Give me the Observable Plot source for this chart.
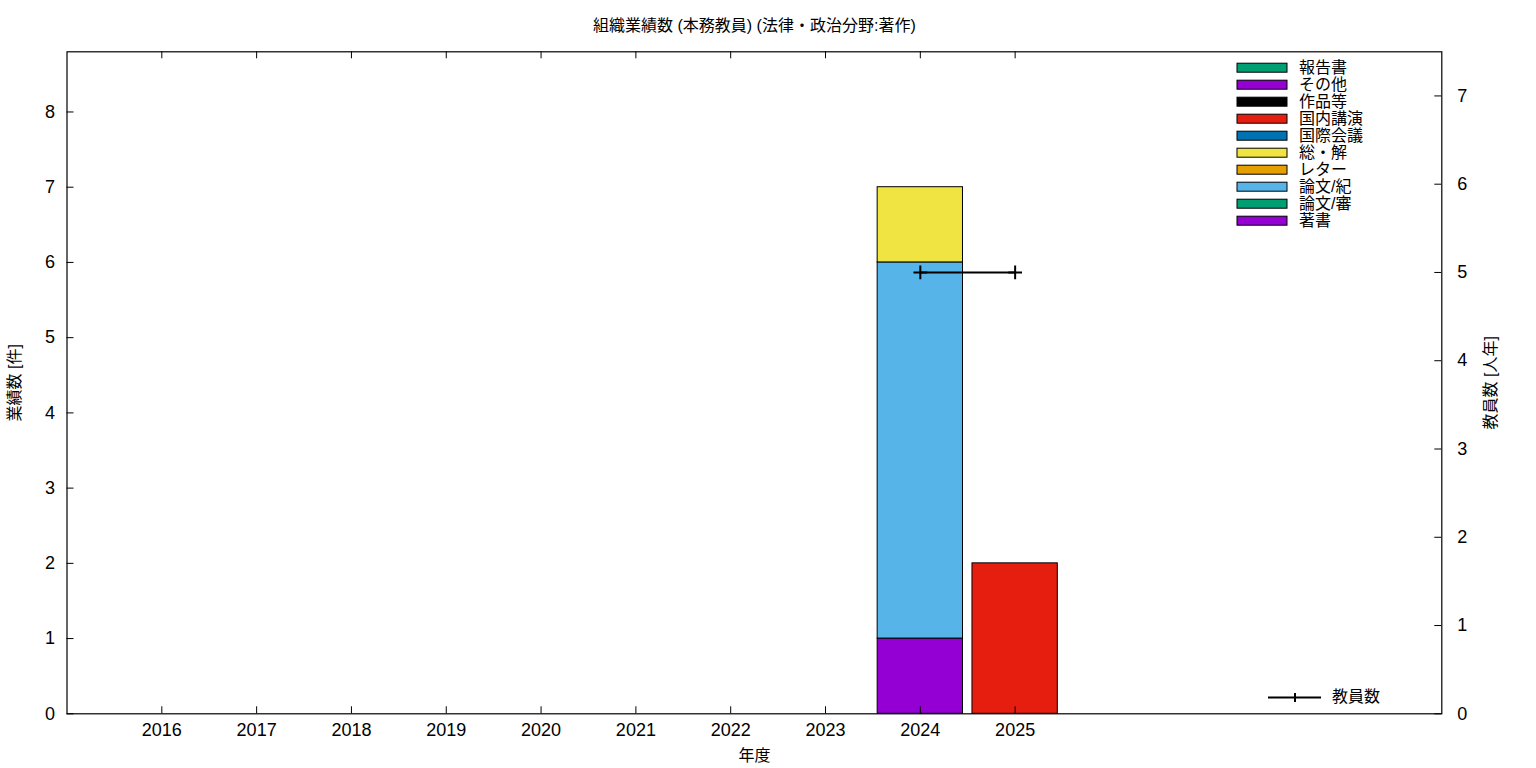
<!DOCTYPE html>
<html>
<head>
<meta charset="utf-8">
<script src="https://cdn.jsdelivr.net/npm/d3@7"></script>
<script src="https://cdn.jsdelivr.net/npm/@observablehq/plot@0.6"></script>
<style>
  html, body { margin: 0; padding: 0; background: #fff; }
  #chart { position: relative; width: 1536px; height: 768px; }
  svg { font-family: "Liberation Sans", "Noto Sans CJK JP", sans-serif; }
</style>
</head>
<body>
<div id="chart"></div>
<script>
// ---- data ----
const years = [2016, 2017, 2018, 2019, 2020, 2021, 2022, 2023, 2024, 2025];
// stacking order, bottom to top
const categories = ["著書", "論文/審", "論文/紀", "レター", "総・解", "国際会議", "国内講演", "作品等", "その他", "報告書"];
const categoryColors = ["#9400d3", "#009e73", "#56b4e9", "#e69f00", "#f0e442", "#0072b2", "#e51e10", "#000000", "#9400d3", "#009e73"];
// counts per category, columns follow years
const counts = {
  "著書":     [0, 0, 0, 0, 0, 0, 0, 0, 1, 0],
  "論文/審":  [0, 0, 0, 0, 0, 0, 0, 0, 0, 0],
  "論文/紀":  [0, 0, 0, 0, 0, 0, 0, 0, 5, 0],
  "レター":   [0, 0, 0, 0, 0, 0, 0, 0, 0, 0],
  "総・解":   [0, 0, 0, 0, 0, 0, 0, 0, 1, 0],
  "国際会議": [0, 0, 0, 0, 0, 0, 0, 0, 0, 0],
  "国内講演": [0, 0, 0, 0, 0, 0, 0, 0, 0, 2],
  "作品等":   [0, 0, 0, 0, 0, 0, 0, 0, 0, 0],
  "その他":   [0, 0, 0, 0, 0, 0, 0, 0, 0, 0],
  "報告書":   [0, 0, 0, 0, 0, 0, 0, 0, 0, 0]
};
const staffYears = [2024, 2025];
const staffCounts = [5, 5];
const leftTicks = [0, 1, 2, 3, 4, 5, 6, 7, 8];
const rightTicks = [0, 1, 2, 3, 4, 5, 6, 7];
const titleText = "組織業績数 (本務教員) (法律・政治分野:著作)";
const yLabel = "業績数 [件]";
const y2Label = "教員数 [人年]";
const xLabel = "年度";
const lineLabel = "教員数";

// ---- layout ----
const W = 1536, H = 768;
const mL = 66.5, mR = 94.7, mT = 51.3, mB = 54.7;
const plotW = W - mL - mR, plotH = H - mT - mB;
const yMax = 8.8, y2Max = 7.5;
const k = yMax / y2Max;         // right-axis value -> left-axis units
const barHalf = 0.45;
const tickLen = 7;

// stacked table
const stacked = [];
years.forEach((yr, j) => {
  let base = 0;
  categories.forEach((c, i) => {
    const v = counts[c][j];
    if (v > 0) {
      stacked.push({year: yr, cat: c, color: categoryColors[i], y1: base, y2: base + v});
      base += v;
    }
  });
});
const staff = staffYears.map((y, i) => ({year: y, v: staffCounts[i]}));

const fs = 18;
const plot = Plot.plot({
  width: W, height: H,
  marginLeft: mL, marginRight: mR, marginTop: mT, marginBottom: mB,
  x: {type: "linear", domain: [2015, 2029.5], axis: null},
  y: {domain: [0, yMax], axis: null},
  marks: [
    Plot.rect(stacked, {x1: d => d.year - barHalf, x2: d => d.year + barHalf, y1: "y1", y2: "y2",
      fill: d => d.color, stroke: "black", strokeWidth: 1}),
    Plot.line(staff, {x: "year", y: d => d.v * k, stroke: "black", strokeWidth: 2}),
    Plot.dot(staff, {x: "year", y: d => d.v * k, symbol: "plus", r: 4.5, stroke: "black", strokeWidth: 2}),
    // ticks (inward)
    Plot.ruleX(years, {x: d => d, insetTop: plotH - tickLen, stroke: "black"}),
    Plot.ruleX(years, {x: d => d, insetBottom: plotH - tickLen, stroke: "black"}),
    Plot.ruleY(leftTicks, {y: d => d, insetRight: plotW - tickLen, stroke: "black"}),
    Plot.ruleY(rightTicks, {y: d => d * k, insetLeft: plotW - tickLen, stroke: "black"}),
    Plot.frame({stroke: "black", strokeWidth: 1.2}),
    // tick labels
    Plot.text(years, {x: d => d, text: d => String(d), frameAnchor: "bottom", dy: 16.5, lineAnchor: "middle", fontSize: fs, fill: "black"}),
    Plot.text(leftTicks, {y: d => d, text: d => String(d), frameAnchor: "left", dx: -12, textAnchor: "end", fontSize: fs, fill: "black"}),
    Plot.text(rightTicks, {y: d => d * k, text: d => String(d), frameAnchor: "right", dx: 15.5, textAnchor: "start", fontSize: fs, fill: "black"}),
    // axis titles
    Plot.text([yLabel], {text: d => d, frameAnchor: "left", dx: -52, textAnchor: "middle", rotate: -90, fontSize: 16, fill: "black"}),
    Plot.text([y2Label], {text: d => d, frameAnchor: "right", dx: 49, textAnchor: "middle", rotate: -90, fontSize: 16, fill: "black"}),
    Plot.text([xLabel], {text: d => d, frameAnchor: "bottom", dy: 42, lineAnchor: "middle", fontSize: 16, fill: "black"}),
    Plot.text([titleText], {text: d => d, frameAnchor: "top", dy: -26, lineAnchor: "middle", fontSize: 16, fill: "black"})
  ]
});
document.getElementById("chart").appendChild(plot);

// legend (gnuplot style, top-right inside the frame; top category listed first)
const svg = d3.select(plot);
const leg = svg.append("g").attr("text-anchor", "start").attr("font-size", 16).attr("fill", "black");
const legendCats = categories.slice().reverse();
const legendCols = categoryColors.slice().reverse();
legendCats.forEach((c, i) => {
  const cy = 67.7 + 17 * i;
  leg.append("rect").attr("x", 1237).attr("y", cy - 4.5).attr("width", 50).attr("height", 9)
    .attr("fill", legendCols[i]).attr("stroke", "black").attr("stroke-width", 1);
  leg.append("text").attr("x", 1299).attr("y", cy).attr("dy", "0.3em").text(c);
});
const ly = 697.5;
leg.append("line").attr("x1", 1268).attr("x2", 1321).attr("y1", ly).attr("y2", ly).attr("stroke", "black").attr("stroke-width", 2);
leg.append("line").attr("x1", 1295).attr("x2", 1295).attr("y1", ly - 4.5).attr("y2", ly + 4.5).attr("stroke", "black").attr("stroke-width", 2);
leg.append("text").attr("x", 1332).attr("y", ly).attr("dy", "0.3em").text(lineLabel);
</script>
</body>
</html>
